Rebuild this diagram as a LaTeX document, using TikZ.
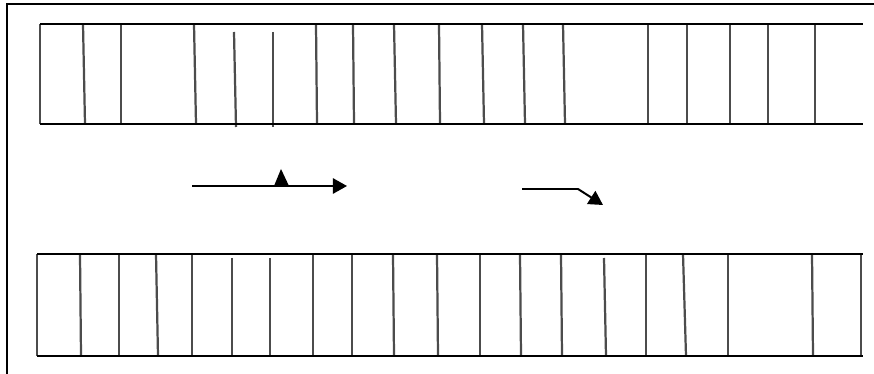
\documentclass[tikz,border=0pt]{standalone}
\usetikzlibrary{arrows.meta}
\tikzset{
  edge/.style={black,line width=1.7pt},
  slat/.style={black!70,line width=1.9pt},
  flow/.style={black,line width=1.7pt,-{Triangle[length=12pt,width=13pt]}}
}
\begin{document}
\begin{tikzpicture}[x=0.03cm,y=-0.03cm]
	\useasboundingbox (0,0) rectangle (874,374);
	\clip (0,0) rectangle (874,374);
	\fill[white] (0,0) rectangle (874,374);
	% frame
	\draw[black,line width=2pt] (7,4) rectangle (900,400);
	% upper strip
	\foreach \xa/\xb in {40/40,83/85,121/121,194/196,316/317,353/354,394/396,
			439/440,482/484,523/525,563/565,648/648,687/687,730/730,768/768,815/815}
		\draw[slat] (\xa,24) -- (\xb,124);
	\foreach \xa/\xb in {234/236,273/273}
		\draw[slat] (\xa,32) -- (\xb,127);
	\draw[edge] (40,24) -- (863,24);
	\draw[edge] (40,124) -- (863,124);
	% lower strip
	\foreach \xa/\xb in {37/37,80/81,119/119,156/158,192/192,313/313,352/352,
			393/394,437/438,480/480,520/521,561/562,646/646,683/686,728/728,812/813,861/861}
		\draw[slat] (\xa,254) -- (\xb,356);
	\foreach \xa/\xb in {232/232,270/270,604/606}
		\draw[slat] (\xa,258) -- (\xb,356);
	\draw[edge] (37,254) -- (863,254);
	\draw[edge] (37,356) -- (863,356);
	% arrows
	\draw[flow] (192,186) -- (347,186);
	\fill[black] (274,186) -- (281,169) -- (289,186) -- cycle;
	\draw[flow] (522,189) -- (578,189) -- (603,205);
\end{tikzpicture}
\end{document}
